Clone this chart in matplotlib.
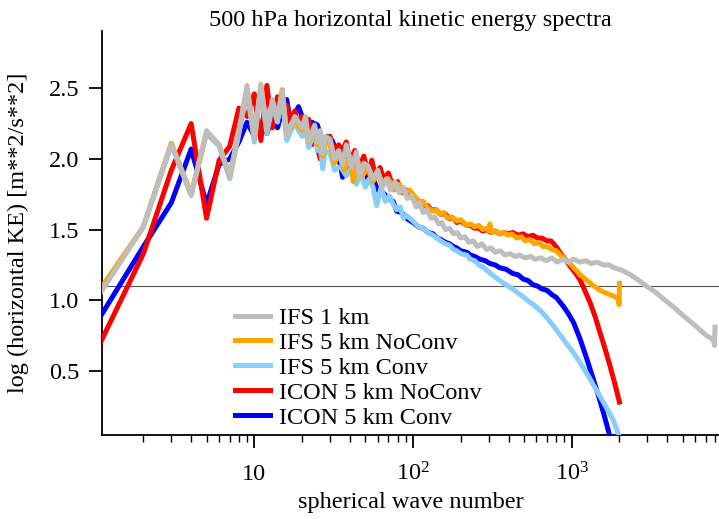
import numpy as np
import matplotlib
matplotlib.use('Agg')
import matplotlib.pyplot as plt
from matplotlib.ticker import FixedLocator, NullFormatter

plt.rcParams['font.family'] = ['Liberation Serif', 'DejaVu Serif']
plt.rcParams['mathtext.fontset'] = 'custom'
plt.rcParams['mathtext.rm'] = 'Liberation Serif'
plt.rcParams['mathtext.it'] = 'Liberation Serif:italic'
FS = 17.5

# spectra (wave number, log KE)
gray_k = [1, 2, 3, 4, 5, 6, 7, 8, 9, 10, 11, 12, 13, 14, 15, 16, 17, 18, 19, 20,
          21, 22, 23, 24, 25, 26, 27, 28, 30, 32, 34, 36, 38, 41, 44, 46, 49, 52, 56, 60,
          64, 68, 72, 77, 82, 87, 92, 98, 105, 110, 116, 122, 130, 137, 145, 152, 160,
          170, 180, 190, 200, 212, 225, 240, 255, 272, 290, 310, 330, 355, 380, 410, 440,
          470, 510, 550, 590, 640, 690, 750, 810, 880, 950, 1030, 1130, 1230, 1330, 1450,
          1580, 1720, 1850, 2100, 2350, 2650, 2960, 3350, 3780, 4300, 4830, 5450, 6160,
          6900, 7800, 7950, 8000]
gray_v = [1.00, 1.52, 2.10, 1.74, 2.20, 2.10, 1.87, 2.20, 2.52, 2.15, 2.53, 2.20, 2.42,
          2.28, 2.48, 2.16, 2.24, 2.30, 2.26, 2.22, 2.30, 2.13, 2.18, 2.24, 2.12, 2.20,
          2.04, 2.16, 2.14, 2.00, 2.06, 1.96, 2.10, 1.94, 2.05, 1.87, 1.97, 1.95, 1.86,
          1.92, 1.80, 1.86, 1.78, 1.84, 1.76, 1.80, 1.72, 1.74, 1.66, 1.69, 1.62, 1.64,
          1.58, 1.59, 1.54, 1.55, 1.50, 1.51, 1.47, 1.48, 1.44, 1.45, 1.41, 1.42, 1.38,
          1.40, 1.36, 1.37, 1.34, 1.35, 1.32, 1.33, 1.31, 1.32, 1.30, 1.31, 1.29, 1.30,
          1.28, 1.30, 1.27, 1.29, 1.27, 1.29, 1.27, 1.28, 1.26, 1.27, 1.25, 1.25, 1.23,
          1.21, 1.18, 1.14, 1.10, 1.06, 1.01, 0.96, 0.91, 0.86, 0.81, 0.76, 0.72, 0.68,
          0.81]

orange_k = [1, 2, 3, 4, 5, 6, 7, 8, 9, 10, 11, 12, 13, 14, 15, 16, 17, 18, 19, 20,
            21, 22, 23, 24, 25, 26, 27, 28, 30, 32, 34, 37, 40, 42, 45, 48, 52, 56, 60,
            65, 70, 76, 82, 88, 95, 105, 110, 116, 125, 134, 140, 148, 156, 165, 175, 189,
            200, 218, 230, 245, 260, 275, 290, 300, 305, 315, 335, 352, 375, 395, 420,
            450, 480, 510, 545, 580, 620, 660, 700, 750, 800, 850, 890, 960, 1030, 1130,
            1250, 1380, 1510, 1650, 1835, 1970, 1990, 2000]
orange_v = [1.03, 1.52, 2.11, 1.75, 2.19, 2.10, 1.88, 2.20, 2.50, 2.15, 2.52, 2.22, 2.40,
            2.30, 2.49, 2.18, 2.22, 2.28, 2.24, 2.20, 2.26, 2.12, 2.18, 2.22, 2.10, 2.16,
            2.02, 2.12, 2.10, 1.97, 2.04, 1.92, 2.02, 1.84, 1.98, 1.88, 1.94, 1.84, 1.90,
            1.82, 1.86, 1.78, 1.82, 1.76, 1.78, 1.72, 1.70, 1.70, 1.65, 1.63, 1.64, 1.61,
            1.62, 1.58, 1.59, 1.56, 1.57, 1.53, 1.54, 1.52, 1.53, 1.50, 1.51, 1.49, 1.54,
            1.48, 1.49, 1.47, 1.48, 1.46, 1.47, 1.44, 1.45, 1.42, 1.43, 1.40, 1.41, 1.38,
            1.38, 1.36, 1.35, 1.32, 1.30, 1.27, 1.23, 1.18, 1.14, 1.10, 1.07, 1.05, 1.03,
            1.01, 0.97, 1.12]

lblue_k = [1, 2, 3, 4, 5, 6, 7, 8, 9, 10, 11, 12, 13, 14, 15, 16, 17, 18, 19, 20,
           21, 22, 23, 24, 25, 26, 27, 28, 30, 32, 35, 38, 41, 44, 47, 50, 53, 56, 59,
           63, 67, 71, 75, 79, 83, 87, 91, 100, 108, 116, 124, 134, 142, 150, 160, 170,
           180, 189, 200, 218, 230, 245, 260, 280, 300, 325, 352, 385, 425, 460, 500, 540,
           573, 630, 695, 790, 890, 1010, 1135, 1280, 1430, 1620, 1835, 2000]
lblue_v = [1.03, 1.52, 2.11, 1.75, 2.18, 2.09, 1.86, 2.18, 2.48, 2.12, 2.50, 2.18, 2.38,
           2.26, 2.46, 2.13, 2.20, 2.26, 2.20, 2.16, 2.22, 2.08, 2.14, 2.18, 2.06, 2.10,
           1.93, 2.06, 2.04, 1.92, 1.945, 1.88, 1.94, 1.82, 1.90, 1.80, 1.86, 1.80, 1.67,
           1.80, 1.70, 1.74, 1.68, 1.64, 1.66, 1.58, 1.60, 1.56, 1.52, 1.51, 1.48, 1.46,
           1.44, 1.42, 1.40, 1.39, 1.36, 1.35, 1.33, 1.32, 1.29, 1.28, 1.25, 1.23, 1.20,
           1.17, 1.14, 1.11, 1.08, 1.05, 1.02, 0.99, 0.97, 0.93, 0.88, 0.80, 0.72, 0.64,
           0.555, 0.46, 0.365, 0.26, 0.15, 0.03]

red_k = [1, 2, 3, 4, 5, 6, 7, 8, 9, 10, 11, 12, 13, 14, 15, 16, 17, 18, 19, 20,
         21, 22, 23, 24, 26, 28, 30, 32, 34, 36, 38, 40, 43, 46, 49, 52, 55, 58, 62, 65,
         70, 75, 80, 86, 91, 100, 108, 116, 124, 130, 140, 148, 160, 170, 180, 189, 200,
         218, 230, 245, 260, 275, 290, 310, 330, 352, 375, 400, 425, 460, 495, 530, 570,
         610, 650, 700, 740, 770, 810, 840, 910, 980, 1060, 1135, 1220, 1310, 1410, 1510,
         1630, 1750, 1870, 2000]
red_v = [0.63, 1.33, 1.92, 2.25, 1.58, 1.99, 2.09, 2.36, 2.30, 2.46, 2.13, 2.52, 2.22,
         2.44, 2.30, 2.38, 2.26, 2.34, 2.22, 2.30, 2.20, 2.28, 2.10, 2.16, 2.00, 2.12,
         2.16, 2.04, 2.10, 2.06, 2.12, 1.98, 2.06, 1.94, 2.02, 1.90, 1.99, 1.88, 1.94,
         1.86, 1.90, 1.80, 1.84, 1.76, 1.78, 1.72, 1.70, 1.67, 1.67, 1.64, 1.64, 1.61,
         1.61, 1.58, 1.58, 1.55, 1.56, 1.53, 1.53, 1.51, 1.51, 1.49, 1.50, 1.48, 1.49,
         1.47, 1.48, 1.47, 1.48, 1.46, 1.47, 1.45, 1.46, 1.44, 1.44, 1.42, 1.42, 1.40,
         1.37, 1.34, 1.29, 1.24, 1.19, 1.14, 1.06, 0.98, 0.88, 0.77, 0.65, 0.53, 0.41,
         0.28]

blue_k = [1, 2, 3, 4, 5, 6, 7, 8, 9, 10, 11, 12, 13, 14, 15, 16, 17, 18, 19, 20,
          21, 22, 23, 25, 27, 29, 31, 33, 35, 36, 38, 40, 42, 45, 48, 52, 56, 60, 65, 70,
          75, 79, 85, 91, 100, 108, 116, 124, 134, 142, 150, 160, 170, 180, 189, 200, 218,
          230, 245, 265, 285, 305, 330, 352, 385, 425, 460, 495, 530, 570, 610, 650, 700,
          750, 800, 890, 960, 1030, 1135, 1250, 1370, 1480, 1590, 1700, 1800]
blue_v = [0.83, 1.38, 1.69, 2.07, 1.68, 1.96, 2.00, 2.12, 2.26, 2.16, 2.24, 2.18, 2.30,
          2.22, 2.34, 2.42, 2.25, 2.32, 2.37, 2.30, 2.25, 2.20, 2.26, 2.24, 2.11, 2.16,
          2.13, 2.05, 1.95, 1.87, 2.00, 1.92, 1.98, 1.86, 1.92, 1.84, 1.86, 1.78, 1.76,
          1.72, 1.70, 1.63, 1.62, 1.58, 1.55, 1.52, 1.51, 1.48, 1.47, 1.44, 1.43, 1.41,
          1.40, 1.38, 1.37, 1.35, 1.34, 1.32, 1.31, 1.29, 1.28, 1.26, 1.25, 1.23, 1.22,
          1.19, 1.18, 1.15, 1.14, 1.11, 1.10, 1.08, 1.07, 1.04, 1.02, 0.955, 0.90, 0.84,
          0.72, 0.58, 0.44, 0.32, 0.20, 0.08, -0.03]

labels = ['IFS 1 km', 'IFS 5 km NoConv', 'IFS 5 km Conv', 'ICON 5 km NoConv', 'ICON 5 km Conv']
colors = ['#bebebe', '#ffa500', '#87cefa', '#ff0000', '#0000ff']
series = [(gray_k, gray_v), (orange_k, orange_v), (lblue_k, lblue_v),
          (red_k, red_v), (blue_k, blue_v)]
ref_level = 1.1

fig = plt.figure(figsize=(7.19, 5.19), dpi=100)
ax = fig.add_axes([102 / 719, 1 - 435 / 519, 617 / 719, 404 / 519])

lines = {}
# draw in reverse so that the IFS 1 km curve lies on top
for lab, col, (k, v) in reversed(list(zip(labels, colors, series))):
    ln, = ax.plot(k, v, color=col, lw=3.6, solid_joinstyle='round', label=lab, zorder=3)
    lines[lab] = ln
ax.axhline(ref_level, color='#555555', lw=0.8, zorder=2)

ax.set_xscale('log')
ax.set_xlim(1.097, 8480)
ax.set_ylim(0.047, 2.905)

ax.xaxis.set_major_locator(FixedLocator([10, 100, 1000]))
ax.xaxis.set_minor_locator(FixedLocator([m * d for d in (1, 10, 100, 1000) for m in range(2, 10)]))
ax.xaxis.set_minor_formatter(NullFormatter())
ax.set_xticklabels(['10', r'$10^{2}$', r'$10^{3}$'])
ax.set_yticks([0.5, 1.0, 1.5, 2.0, 2.5])
ax.set_yticklabels(['0.5', '1.0', '1.5', '2.0', '2.5'])

for s in ['top', 'right']:
    ax.spines[s].set_visible(False)
for s in ['left', 'bottom']:
    ax.spines[s].set_linewidth(1.3)
ax.tick_params(axis='both', which='major', length=9.5, width=1.3, labelsize=FS)
ax.tick_params(axis='x', which='minor', length=5, width=1.0)
ax.tick_params(axis='x', which='major', pad=23)
ax.tick_params(axis='y', which='major', pad=7)
for t in ax.get_xticklabels():
    t.set_verticalalignment('baseline')

ax.set_title('500 hPa horizontal kinetic energy spectra', fontsize=FS, pad=3)
ax.set_xlabel('spherical wave number', fontsize=FS, labelpad=5)
ax.set_ylabel('log (horizontal KE) [m**2/s**2]', fontsize=FS, labelpad=14)

ax.legend([lines[l] for l in labels], labels, loc='upper left',
          bbox_to_anchor=(133 / 617, (435 - 307) / 404), frameon=False, fontsize=FS,
          handlelength=1.45, handletextpad=0.35, labelspacing=0.12, borderpad=0,
          borderaxespad=0)

fig.savefig('out.png', dpi=100)
